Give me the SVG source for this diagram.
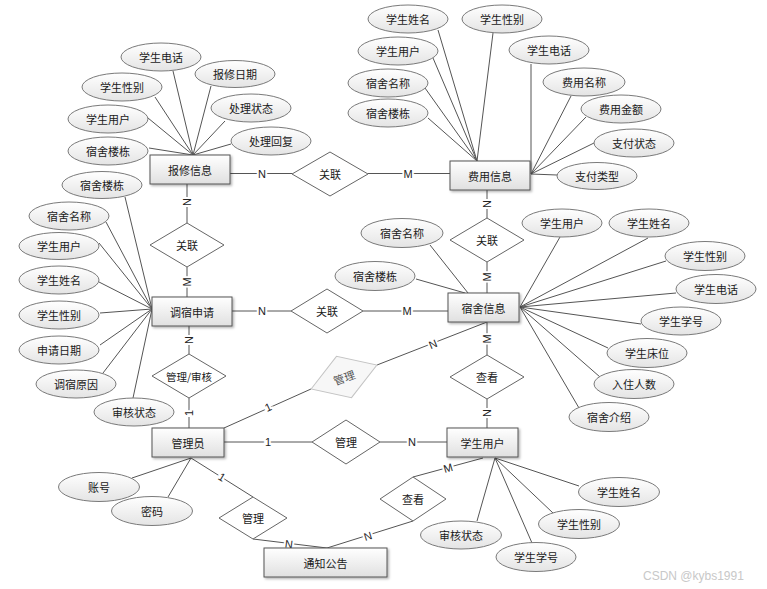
<svg xmlns="http://www.w3.org/2000/svg" width="767" height="589" viewBox="0 0 767 589">
<defs>
<linearGradient id="ge" x1="0" y1="0" x2="0" y2="1"><stop offset="0" stop-color="#ffffff"/><stop offset="1" stop-color="#e4e4e4"/></linearGradient>
<linearGradient id="gr" x1="0" y1="0" x2="0" y2="1"><stop offset="0" stop-color="#ffffff"/><stop offset="1" stop-color="#e0e0e0"/></linearGradient>
<filter id="sh" x="-10%" y="-20%" width="130%" height="150%"><feDropShadow dx="1.5" dy="1.5" stdDeviation="1" flood-color="#000" flood-opacity="0.3"/></filter>
<style>
.ln{stroke:#555;stroke-width:1;fill:none}
.at{fill:url(#ge);stroke:#7a7a7a;stroke-width:1}
.en{fill:url(#gr);stroke:#555;stroke-width:1;filter:url(#sh)}
.rl{fill:#fff;stroke:#666;stroke-width:1}
.rlg{fill:#f7f7f7;stroke:#c4c4c4;stroke-width:1}
.t{font-family:"Noto Sans CJK SC","Noto Sans",sans-serif;font-size:11px;fill:#1a1a1a;text-anchor:middle;dominant-baseline:central}
.ts{font-size:10.5px}
.tg{fill:#555}
.lb{font-family:"Liberation Sans",Arial,sans-serif;font-size:11px;fill:#222;text-anchor:middle;dominant-baseline:central;stroke:#fff;stroke-width:4;paint-order:stroke}
.wm{font-family:"Liberation Sans",Arial,sans-serif;font-size:12px;fill:#c8c8c8}
</style>
</defs>
<rect width="767" height="589" fill="#fff"/>

<g id="connectors">
<!-- attribute lines: 报修信息 -->
<line class="ln" x1="173" y1="71" x2="193" y2="155"/>
<line class="ln" x1="155" y1="97" x2="193" y2="155"/>
<line class="ln" x1="148" y1="118" x2="193" y2="155"/>
<line class="ln" x1="149" y1="148" x2="193" y2="155"/>
<line class="ln" x1="211" y1="86" x2="193" y2="155"/>
<line class="ln" x1="225" y1="121" x2="193" y2="155"/>
<line class="ln" x1="231" y1="144" x2="193" y2="155"/>
<!-- 调宿申请 -->
<line class="ln" x1="125" y1="197" x2="152" y2="309"/>
<line class="ln" x1="106" y1="222" x2="152" y2="309"/>
<line class="ln" x1="99" y1="243" x2="152" y2="309"/>
<line class="ln" x1="99" y1="282" x2="152" y2="309"/>
<line class="ln" x1="100" y1="313" x2="152" y2="309"/>
<line class="ln" x1="100" y1="345" x2="152" y2="309"/>
<line class="ln" x1="103" y1="373" x2="152" y2="309"/>
<line class="ln" x1="133" y1="398" x2="152" y2="309"/>
<!-- 费用信息 -->
<line class="ln" x1="438" y1="30" x2="477" y2="161"/>
<line class="ln" x1="493" y1="33" x2="477" y2="161"/>
<line class="ln" x1="433" y1="58" x2="477" y2="161"/>
<line class="ln" x1="425" y1="88" x2="477" y2="161"/>
<line class="ln" x1="428" y1="118" x2="477" y2="161"/>
<polyline class="ln" points="531,64 531,174"/>
<line class="ln" x1="571" y1="96" x2="531" y2="174"/>
<line class="ln" x1="586" y1="117" x2="531" y2="174"/>
<line class="ln" x1="594" y1="143" x2="531" y2="174"/>
<line class="ln" x1="557" y1="175" x2="531" y2="174"/>
<!-- 宿舍信息 -->
<line class="ln" x1="560" y1="237" x2="520" y2="307"/>
<line class="ln" x1="648" y1="238" x2="520" y2="307"/>
<line class="ln" x1="666" y1="261" x2="520" y2="307"/>
<line class="ln" x1="676" y1="293" x2="520" y2="307"/>
<line class="ln" x1="641" y1="324" x2="520" y2="307"/>
<line class="ln" x1="608" y1="348" x2="520" y2="307"/>
<line class="ln" x1="600" y1="377" x2="520" y2="307"/>
<line class="ln" x1="579" y1="408" x2="520" y2="307"/>
<line class="ln" x1="430" y1="245" x2="468" y2="293"/>
<line class="ln" x1="416" y1="279" x2="465" y2="293"/>
<!-- 管理员 -->
<line class="ln" x1="132" y1="478" x2="191" y2="458"/>
<line class="ln" x1="168" y1="497" x2="191" y2="458"/>
<!-- 学生用户 -->
<line class="ln" x1="579" y1="486" x2="495" y2="458"/>
<line class="ln" x1="553" y1="513" x2="495" y2="458"/>
<line class="ln" x1="532" y1="543" x2="495" y2="458"/>
<line class="ln" x1="477" y1="521" x2="495" y2="458"/>

<!-- relationship lines -->
<line class="ln" x1="230" y1="173.5" x2="292" y2="173.5"/>
<line class="ln" x1="368" y1="173.5" x2="450" y2="173.5"/>
<line class="ln" x1="187" y1="184" x2="187" y2="223"/>
<line class="ln" x1="187" y1="267" x2="187" y2="297"/>
<line class="ln" x1="232" y1="311" x2="291" y2="311"/>
<line class="ln" x1="363" y1="311" x2="448" y2="311"/>
<line class="ln" x1="487" y1="190" x2="487" y2="218"/>
<line class="ln" x1="487" y1="262" x2="487" y2="293"/>
<line class="ln" x1="189" y1="326" x2="189" y2="354"/>
<line class="ln" x1="189" y1="398" x2="189" y2="428"/>
<line class="ln" x1="224" y1="428" x2="311" y2="389"/>
<line class="ln" x1="377" y1="365" x2="487" y2="322"/>
<line class="ln" x1="224" y1="442" x2="312" y2="442"/>
<line class="ln" x1="380" y1="442" x2="447" y2="442"/>
<line class="ln" x1="487" y1="322" x2="487" y2="355"/>
<line class="ln" x1="487" y1="399" x2="487" y2="428"/>
<line class="ln" x1="191" y1="458" x2="253" y2="497"/>
<line class="ln" x1="253" y1="539" x2="327" y2="548"/>
<line class="ln" x1="327" y1="548" x2="413" y2="521"/>
<line class="ln" x1="413" y1="477" x2="483" y2="458"/>

<!-- cardinality labels -->
<text class="lb" x="262" y="174">N</text>
<text class="lb" x="408" y="174">M</text>
<text class="lb" transform="translate(187,202) rotate(-90)">N</text>
<text class="lb" transform="translate(187,282) rotate(-90)">M</text>
<text class="lb" x="262" y="311">N</text>
<text class="lb" x="407" y="311">M</text>
<text class="lb" transform="translate(487,204) rotate(-90)">N</text>
<text class="lb" transform="translate(487,277) rotate(-90)">M</text>
<text class="lb" transform="translate(189,340) rotate(-90)">N</text>
<text class="lb" transform="translate(189,413) rotate(-90)">1</text>
<text class="lb" transform="translate(268,407) rotate(-25)">1</text>
<text class="lb" transform="translate(433,344) rotate(-22)">N</text>
<text class="lb" x="268" y="442">1</text>
<text class="lb" x="412" y="442">N</text>
<text class="lb" transform="translate(487,339) rotate(-90)">M</text>
<text class="lb" transform="translate(487,413) rotate(-90)">N</text>
<text class="lb" transform="translate(222,477) rotate(32)">1</text>
<text class="lb" transform="translate(289,544) rotate(7)">N</text>
<text class="lb" transform="translate(368,536) rotate(-17)">N</text>
<text class="lb" transform="translate(448,468) rotate(-16)">M</text>
</g>

<!-- entities -->
<g id="e-baoxiu"><rect class="en" x="150" y="155" width="80" height="29"/><text class="t" x="190" y="170">报修信息</text></g>
<g id="e-feiyong"><rect class="en" x="450" y="161" width="80" height="29"/><text class="t" x="490" y="176">费用信息</text></g>
<g id="e-tiaosu"><rect class="en" x="152" y="297" width="80" height="29"/><text class="t" x="192" y="312">调宿申请</text></g>
<g id="e-sushe"><rect class="en" x="448" y="293" width="71" height="29"/><text class="t" x="483.5" y="308">宿舍信息</text></g>
<g id="e-admin"><rect class="en" x="152" y="428" width="72" height="29"/><text class="t" x="188" y="443">管理员</text></g>
<g id="e-student"><rect class="en" x="447" y="428" width="71" height="29"/><text class="t" x="482.5" y="443">学生用户</text></g>
<g id="e-notice"><rect class="en" x="264" y="548" width="123" height="29"/><text class="t" x="325.5" y="563">通知公告</text></g>

<!-- relationships -->
<g id="r1"><polygon class="rl" points="292,174 330,152 368,174 330,196"/><text class="t" x="330" y="174">关联</text></g>
<g id="r2"><polygon class="rl" points="150,245 187,223 224,245 187,267"/><text class="t" x="187" y="245">关联</text></g>
<g id="r3"><polygon class="rl" points="291,311 327,289 363,311 327,333"/><text class="t" x="327" y="311">关联</text></g>
<g id="r4"><polygon class="rl" points="450,240 487,218 524,240 487,262"/><text class="t" x="487" y="240">关联</text></g>
<g id="r5"><polygon class="rl" points="152,376 189,354 226,376 189,398"/><text class="t ts" x="189" y="376">管理/审核</text></g>
<g id="r6" transform="translate(344,377) rotate(-20)"><polygon class="rlg" points="-35,0 0,-22 35,0 0,22"/><text class="t tg" x="0" y="0">管理</text></g>
<g id="r7"><polygon class="rl" points="312,442 346,420 380,442 346,464"/><text class="t" x="346" y="442">管理</text></g>
<g id="r8"><polygon class="rl" points="219,518 253,497 287,518 253,539"/><text class="t" x="253" y="518">管理</text></g>
<g id="r9"><polygon class="rl" points="450,377 487,355 524,377 487,399"/><text class="t" x="487" y="377">查看</text></g>
<g id="r10"><polygon class="rl" points="380,499 413,477 446,499 413,521"/><text class="t" x="413" y="499">查看</text></g>

<!-- attributes: 报修信息 -->
<g id="a-bx-1"><ellipse class="at" cx="161" cy="57" rx="40" ry="14"/><text class="t" x="161" y="57">学生电话</text></g>
<g id="a-bx-2"><ellipse class="at" cx="235" cy="74" rx="40" ry="13.5"/><text class="t" x="235" y="74">报修日期</text></g>
<g id="a-bx-3"><ellipse class="at" cx="122" cy="87" rx="40" ry="14"/><text class="t" x="122" y="87">学生性别</text></g>
<g id="a-bx-4"><ellipse class="at" cx="251" cy="108" rx="40" ry="14"/><text class="t" x="251" y="108">处理状态</text></g>
<g id="a-bx-5"><ellipse class="at" cx="108" cy="119" rx="40" ry="14"/><text class="t" x="108" y="119">学生用户</text></g>
<g id="a-bx-6"><ellipse class="at" cx="271" cy="141" rx="40" ry="14"/><text class="t" x="271" y="141">处理回复</text></g>
<g id="a-bx-7"><ellipse class="at" cx="108" cy="151" rx="40" ry="14"/><text class="t" x="108" y="151">宿舍楼栋</text></g>

<!-- attributes: 调宿申请 -->
<g id="a-ts-1"><ellipse class="at" cx="102" cy="185" rx="40" ry="13.5"/><text class="t" x="102" y="185">宿舍楼栋</text></g>
<g id="a-ts-2"><ellipse class="at" cx="69" cy="216" rx="40" ry="14"/><text class="t" x="69" y="216">宿舍名称</text></g>
<g id="a-ts-3"><ellipse class="at" cx="59" cy="246" rx="40" ry="13.5"/><text class="t" x="59" y="246">学生用户</text></g>
<g id="a-ts-4"><ellipse class="at" cx="59" cy="280" rx="40" ry="14"/><text class="t" x="59" y="280">学生姓名</text></g>
<g id="a-ts-5"><ellipse class="at" cx="59" cy="315" rx="40" ry="14"/><text class="t" x="59" y="315">学生性别</text></g>
<g id="a-ts-6"><ellipse class="at" cx="59" cy="350" rx="40" ry="14"/><text class="t" x="59" y="350">申请日期</text></g>
<g id="a-ts-7"><ellipse class="at" cx="76" cy="384" rx="40" ry="14"/><text class="t" x="76" y="384">调宿原因</text></g>
<g id="a-ts-8"><ellipse class="at" cx="134" cy="412" rx="40" ry="14"/><text class="t" x="134" y="412">审核状态</text></g>

<!-- attributes: 费用信息 -->
<g id="a-fy-1"><ellipse class="at" cx="408" cy="19" rx="40" ry="14"/><text class="t" x="408" y="19">学生姓名</text></g>
<g id="a-fy-2"><ellipse class="at" cx="502" cy="19" rx="40" ry="14"/><text class="t" x="502" y="19">学生性别</text></g>
<g id="a-fy-3"><ellipse class="at" cx="398" cy="51" rx="40" ry="14"/><text class="t" x="398" y="51">学生用户</text></g>
<g id="a-fy-4"><ellipse class="at" cx="549" cy="50" rx="40" ry="14"/><text class="t" x="549" y="50">学生电话</text></g>
<g id="a-fy-5"><ellipse class="at" cx="388" cy="83" rx="40" ry="14"/><text class="t" x="388" y="83">宿舍名称</text></g>
<g id="a-fy-6"><ellipse class="at" cx="388" cy="113" rx="40" ry="14"/><text class="t" x="388" y="113">宿舍楼栋</text></g>
<g id="a-fy-7"><ellipse class="at" cx="584" cy="82" rx="41" ry="14"/><text class="t" x="584" y="82">费用名称</text></g>
<g id="a-fy-8"><ellipse class="at" cx="621" cy="109" rx="40" ry="14"/><text class="t" x="621" y="109">费用金额</text></g>
<g id="a-fy-9"><ellipse class="at" cx="634" cy="143" rx="40" ry="14"/><text class="t" x="634" y="143">支付状态</text></g>
<g id="a-fy-10"><ellipse class="at" cx="597" cy="176" rx="40" ry="13.5"/><text class="t" x="597" y="176">支付类型</text></g>

<!-- attributes: 宿舍信息 -->
<g id="a-ss-1"><ellipse class="at" cx="402" cy="233" rx="41" ry="14.5"/><text class="t" x="402" y="233">宿舍名称</text></g>
<g id="a-ss-2"><ellipse class="at" cx="375" cy="276" rx="40" ry="14.5"/><text class="t" x="375" y="276">宿舍楼栋</text></g>
<g id="a-ss-3"><ellipse class="at" cx="562" cy="223" rx="40" ry="14"/><text class="t" x="562" y="223">学生用户</text></g>
<g id="a-ss-4"><ellipse class="at" cx="649" cy="223" rx="40" ry="14"/><text class="t" x="649" y="223">学生姓名</text></g>
<g id="a-ss-5"><ellipse class="at" cx="705" cy="256" rx="40" ry="14.5"/><text class="t" x="705" y="256">学生性别</text></g>
<g id="a-ss-6"><ellipse class="at" cx="716" cy="289" rx="40" ry="14.5"/><text class="t" x="716" y="289">学生电话</text></g>
<g id="a-ss-7"><ellipse class="at" cx="681" cy="321" rx="40" ry="14"/><text class="t" x="681" y="321">学生学号</text></g>
<g id="a-ss-8"><ellipse class="at" cx="647" cy="353" rx="40" ry="14.5"/><text class="t" x="647" y="353">学生床位</text></g>
<g id="a-ss-9"><ellipse class="at" cx="634" cy="384" rx="40" ry="14.5"/><text class="t" x="634" y="384">入住人数</text></g>
<g id="a-ss-10"><ellipse class="at" cx="609" cy="417" rx="40" ry="14.5"/><text class="t" x="609" y="417">宿舍介绍</text></g>

<!-- attributes: 管理员 -->
<g id="a-ad-1"><ellipse class="at" cx="99" cy="487" rx="40.5" ry="14.5"/><text class="t" x="99" y="487">账号</text></g>
<g id="a-ad-2"><ellipse class="at" cx="152" cy="511" rx="40.5" ry="14.5"/><text class="t" x="152" y="511">密码</text></g>

<!-- attributes: 学生用户 -->
<g id="a-st-1"><ellipse class="at" cx="619" cy="492" rx="40.5" ry="14.5"/><text class="t" x="619" y="492">学生姓名</text></g>
<g id="a-st-2"><ellipse class="at" cx="579" cy="524" rx="40.5" ry="14.5"/><text class="t" x="579" y="524">学生性别</text></g>
<g id="a-st-3"><ellipse class="at" cx="536" cy="557" rx="40" ry="14.5"/><text class="t" x="536" y="557">学生学号</text></g>
<g id="a-st-4"><ellipse class="at" cx="461" cy="535" rx="40.5" ry="14"/><text class="t" x="461" y="535">审核状态</text></g>

<text class="wm" x="643" y="580">CSDN @kybs1991</text>
</svg>
